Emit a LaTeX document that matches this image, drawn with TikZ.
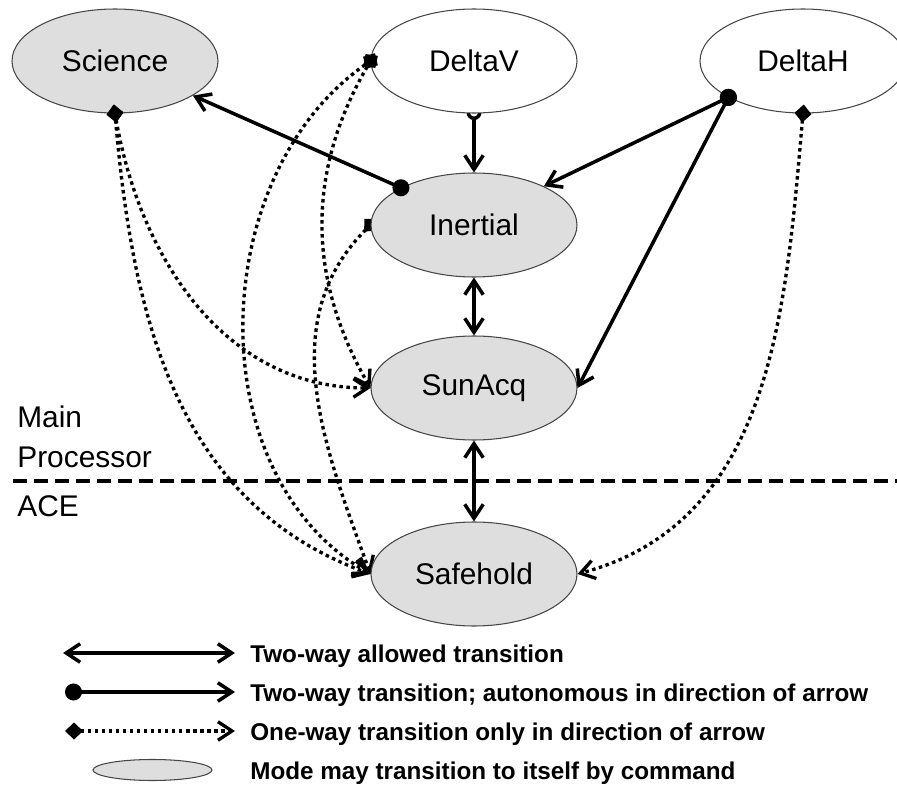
\documentclass[tikz,border=0pt]{standalone}
\usepackage{fontspec}
\setmainfont{Liberation Sans}
\usepackage{tikz}
\usetikzlibrary{positioning,arrows.meta,shapes.geometric,backgrounds}
\usepackage{xcolor}
\definecolor{modegray}{RGB}{222,222,222}
\definecolor{rimgray}{RGB}{70,70,70}

\begin{document}
\begin{tikzpicture}[
  >={Straight Barb[length=2.8mm,width=3.7mm]},
  modebox/.style={ellipse,draw=rimgray,line width=0.6pt,fill=white,inner sep=0pt,
                  font=\fontsize{17}{20}\selectfont,minimum width=4.12cm,minimum height=2.08cm},
  cmdbox/.style={fill=modegray},
  twoway/.style={line width=2pt,<->},
  autoway/.style={line width=2pt,{Circle[length=3.4mm]}->,shorten <=-1.7mm},
  oneway/.style={line width=1.9pt,dash pattern=on 2pt off 2pt,
                 {Turned Square[length=3.6mm,width=3.4mm]}->,shorten <=-1.8mm},
  divider/.style={line width=2.2pt,dash pattern=on 0.28cm off 0.14cm},
  sidelabel/.style={anchor=west,inner sep=0pt,align=left,font=\fontsize{17}{22.8}\selectfont},
  keytext/.style={anchor=base west,inner sep=0pt,font=\fontsize{13.8}{16}\selectfont\bfseries}
]
\useasboundingbox (0,0) rectangle (17.94,-16.02);

% modes
\node[modebox,cmdbox] (science) at (2.30,-1.22) {Science};
\node[modebox] (deltav) at (9.48,-1.22) {DeltaV};
\node[modebox] (deltah) at (16.06,-1.22) {DeltaH};
\node[modebox,cmdbox] (inertial) at (9.48,-4.50) {Inertial};
\node[modebox,cmdbox] (sunacq) at (9.48,-7.76) {SunAcq};
\node[modebox,cmdbox] (safehold) at (9.48,-11.48) {Safehold};

% processor boundary
\coordinate (divw) at (0.26,-9.62);
\coordinate (dive) at (17.94,-9.62);
\draw[divider] (divw) -- (dive);
\node[sidelabel] (mainproc) at (0.34,-8.74) {Main\\Processor};
\node[sidelabel] (ace) at (0.34,-10.12) {ACE};

% transitions
\draw[twoway] (inertial) -- (sunacq);
\draw[twoway] (sunacq) -- (safehold);
\draw[autoway] (inertial.153) -- (science);
\draw[autoway] (deltah.206) -- (inertial.29);
\draw[autoway] (deltah.206) -- (sunacq.east);
\begin{scope}[on background layer]
\draw[autoway,{Circle[open,length=3mm]}->] (deltav.south) -- (inertial.north);
\draw[oneway] (inertial.west) to[out=225,in=110] (safehold.west);
\end{scope}
\draw[oneway] (science.south) to[out=-80,in=180] (sunacq.west);
\draw[oneway] (science.south) to[out=-85,in=160] (safehold.west);
\draw[oneway] (deltav.west) to[out=240,in=120] (sunacq.west);
\draw[oneway] (deltav.west) to[out=215,in=150] (safehold.west);
\draw[oneway] (deltah.south) to[out=-95,in=15] (safehold.east);

% legend
\coordinate (k1w) at (1.26,-13.06); \coordinate (k1e) at (4.70,-13.06);
\coordinate (k2w) at (1.30,-13.84); \coordinate (k2e) at (4.70,-13.84);
\coordinate (k3w) at (1.30,-14.62); \coordinate (k3e) at (4.70,-14.62);
\draw[twoway] (k1w) -- (k1e);
\draw[autoway,shorten <=0pt] (k2w) -- (k2e);
\draw[oneway,shorten <=0pt] (k3w) -- (k3e);
\node[modebox,cmdbox,minimum width=2.38cm,minimum height=0.42cm] (keymode) at (3.05,-15.40) {};
\node[keytext] (k1) at (5.0,-13.24) {Two-way allowed transition};
\node[keytext] (k2) at (5.0,-14.02) {Two-way transition; autonomous in direction of arrow};
\node[keytext] (k3) at (5.0,-14.80) {One-way transition only in direction of arrow};
\node[keytext] (k4) at (5.0,-15.58) {Mode may transition to itself by command};
\end{tikzpicture}
\end{document}
